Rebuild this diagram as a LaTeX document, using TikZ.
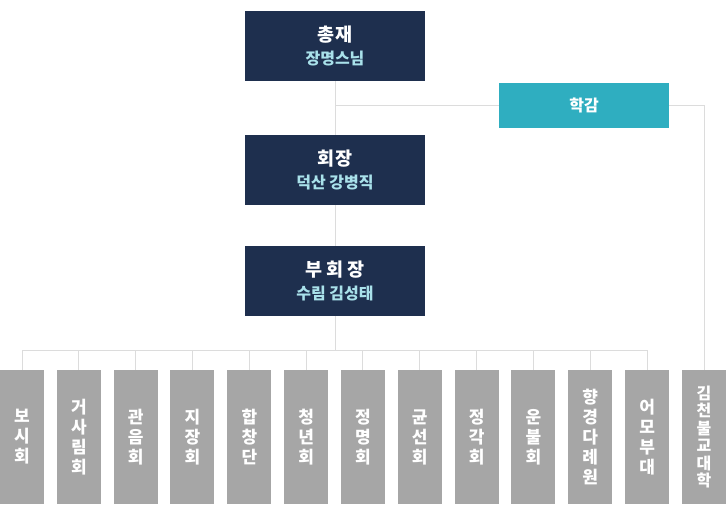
\documentclass[tikz,border=0pt]{standalone}
\usepackage{fontspec}
\setmainfont{Noto Sans CJK KR}
\usepackage{xcolor}
\usepackage{tikz}
\usetikzlibrary{backgrounds,positioning}
\definecolor{headnavy}{HTML}{1E2F4E}
\definecolor{deanteal}{HTML}{2FAEC0}
\definecolor{unitgray}{HTML}{A6A6A6}
\definecolor{linkgray}{HTML}{DCDCDC}
\definecolor{namecyan}{HTML}{A9E1EA}
\tikzset{
  headbox/.style = {rectangle, fill=headnavy, text=white, inner sep=0pt,
                    minimum width=180pt, minimum height=70pt, align=center,
                    font=\fontsize{18.5}{23}\selectfont\bfseries},
  deanbox/.style = {rectangle, fill=deanteal, text=white, inner sep=0pt,
                    minimum width=170pt, minimum height=45pt,
                    font=\fontsize{16}{17}\selectfont\bfseries},
  unitbox/.style = {rectangle, fill=unitgray, text=white, inner sep=0pt,
                    minimum width=44pt, minimum height=134pt, align=center,
                    font=\fontsize{17}{20}\selectfont\bfseries},
  orglink/.style = {draw=linkgray, line width=1pt},
}

\begin{document}
\begin{tikzpicture}[x=1pt, y=-1pt]
\useasboundingbox (0,0) rectangle (726,504);

\node[headbox] (chief) at (335,46)  {총재\\{\fontsize{16}{23}\selectfont\color{namecyan}장명스님}};
\node[headbox] (pres)  at (335,170) {회장\\{\fontsize{16}{23}\selectfont\color{namecyan}덕산 강병직}};
\node[headbox] (vice)  at (335,281) {부 회 장\\{\fontsize{16}{23}\selectfont\color{namecyan}수림 김성태}};
\node[deanbox] (dean)  at (584,105) {학감};

\foreach \lbl [count=\i from 0] in {{보\\시\\회}, {거\\사\\림\\회}, {관\\음\\회},
    {지\\장\\회}, {합\\창\\단}, {청\\년\\회}, {정\\명\\회}, {균\\선\\회},
    {정\\각\\회}, {운\\불\\회}, {향\\경\\다\\례\\원}, {어\\모\\부\\대}}
  \node[unitbox] (u\i) at ({22+56.83*\i},437) {\lbl};
\node[unitbox, font=\fontsize{16}{17.6}\selectfont\bfseries] (u12) at (704,437)
  {김\\천\\불\\교\\대\\학};

\coordinate (busL) at (22,350);
\coordinate (busR) at (647,350);

\begin{scope}[on background layer]
  \draw[orglink] (chief) -- (pres);
  \draw[orglink] (pres) -- (vice);
  \draw[orglink] (vice.south) -- (vice.south |- busL);
  \draw[orglink] (busL) -- (busR);
  \foreach \i in {0,...,11}
    \draw[orglink] (u\i.north) -- (u\i.north |- busL);
  \draw[orglink] (dean.west -| chief.south) -- (dean.west);
  \draw[orglink] (dean.east) -| (u12.north);
\end{scope}
\end{tikzpicture}
\end{document}
